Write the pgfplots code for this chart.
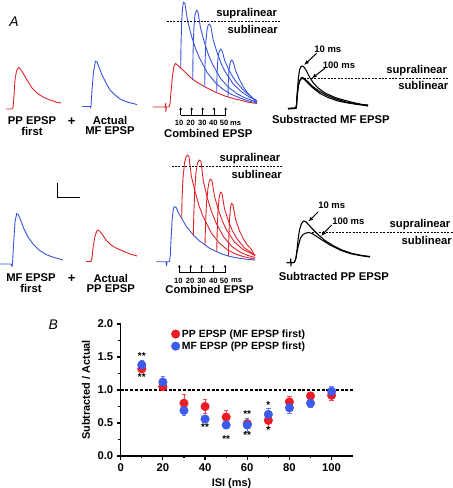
\documentclass[border=0pt]{standalone}
\usepackage{fontspec}
\setmainfont{Liberation Sans}
\usepackage{pgfplots}
\usepackage{pgfplotstable}
\pgfplotsset{compat=1.18}
\usetikzlibrary{arrows.meta}
\definecolor{tred}{RGB}{222,34,40}
\definecolor{tblue}{RGB}{55,85,222}
\definecolor{dred}{RGB}{236,28,36}
\definecolor{dblue}{RGB}{60,90,235}

\pgfplotstableread{
x y e
10 1.32 0.04
20 1.05 0.04
30 0.80 0.13
40 0.75 0.10
50 0.59 0.10
60 0.49 0.08
70 0.54 0.10
80 0.82 0.08
90 0.91 0.05
100 0.92 0.08
}\redtab
\pgfplotstableread{
x y e
10 1.38 0.07
20 1.12 0.08
30 0.69 0.08
40 0.56 0.04
50 0.47 0.05
60 0.47 0.10
70 0.63 0.09
80 0.73 0.08
90 0.80 0.06
100 0.98 0.07
}\bluetab

\newcommand{\lab}{\fontsize{11.3}{12}\selectfont\bfseries}
\newcommand{\sm}{\fontsize{7.6}{8}\selectfont\bfseries}
\newcommand{\md}{\fontsize{9.5}{10}\selectfont\bfseries}

\begin{document}
\begin{tikzpicture}
\begin{axis}[name=canvas, scale only axis, width=453bp, height=488bp,
  xmin=0, xmax=453, ymin=0, ymax=488, y dir=reverse, axis lines=none, clip=false,
  every axis plot/.append style={line width=0.9pt, line join=round, mark=none}]
% ---------- top row ----------
\addplot[tred] coordinates {(6,109) (12,109) (13,108) (14,95) (15,80) (16.5,71) (18.5,67.5) (20,68.5) (23,73) (27,80) (32,88) (37,93) (43,97) (50,100) (56,102) (61,103)};
\addplot[tblue] coordinates {(82,106.5) (90,106.5) (90.5,108) (91,106) (92,90) (93.5,72) (95.5,61) (97,62) (99,67) (102,75) (106,83) (110,90) (115,95) (120,99) (127,102) (137,104.5)};
% combined top: red base
\addplot[tred] coordinates {(152.7,107) (165,107) (165.7,103.5) (165.9,111.5) (166.3,107) (169,107) (170,104) (171,92) (172.5,76) (174,66) (175.5,63.5) (177,64.5) (180,67.5) (185,72) (190,77) (195,81) (200,84) (205,87) (210,89.5) (215,92) (220,94) (225,96) (230,97.5) (235,99) (240,100) (245,101.5) (250,102.5) (257,103.5)};
\addplot[tblue] coordinates {(180.7,68) (181,45) (181.7,22) (182.5,8) (183.5,2) (185,4) (187.5,20.5) (191.5,36) (195.5,48.6) (199.5,58) (207.5,73) (215.5,82.8) (223.5,89.7) (231.5,94.4) (239.5,97.8) (247.5,100.7) (257,103)};
\addplot[tblue] coordinates {(192.7,80) (193,55) (193.8,30) (194.8,16) (196.5,10) (198,12) (200.5,28) (204.5,42.7) (208.5,55) (212.5,64.2) (220.5,78.4) (228.5,87.3) (236.5,93.4) (244.5,97.7) (252.5,100.6) (257,102)};
\addplot[tblue] coordinates {(204.7,87) (205,65) (205.8,42) (207,30) (208.2,25) (209.3,24) (210.8,26) (213.3,40.3) (217.3,53.2) (221.3,63.9) (225.3,72) (233.3,84.2) (241.3,91.6) (249.3,97.1) (257,100.5)};
\addplot[tblue] coordinates {(216.7,92.7) (217,75) (217.8,60) (219,52) (220.7,49) (222.2,51) (224.7,60.6) (228.7,69.5) (232.7,77) (236.7,82.5) (244.7,91.4) (252.7,98) (257,101.5)};
\addplot[tblue] coordinates {(228,97) (228.3,82) (229,70) (230.3,62) (231.7,60) (233.2,62) (235.7,71) (239.7,80) (243.7,87.5) (247.7,93) (251.7,97.5) (256.7,102.5)};
% subtracted MF
\addplot[black, line width=1.1pt] coordinates {(288,108.5) (295,108) (296,108.5) (296.5,105) (297.3,92) (298.3,79) (299.5,70) (301,66.5) (302.5,66) (304,67) (306,70) (309,76) (313,82.5) (318,88) (325,93) (335,97.5) (345,100.5) (355,103) (362,104.5) (368,105.5)};
\addplot[black, line width=1.1pt] coordinates {(288,108.5) (295,108) (296,108.5) (296.5,105) (297.3,94) (298.3,86) (299.5,81) (301,79) (302.5,78.5) (304.5,79.5) (308,83) (313,88) (320,93.5) (328,97.5) (338,101) (348,103) (358,104.5) (368,106)};
\addplot[black, line width=1.1pt] coordinates {(288,109) (295,108.5) (296.5,106) (297.3,95) (298.5,85) (300,80) (301.5,77.5) (303.5,78) (307,81) (312,86) (318,90.5) (326,95) (336,99) (346,102) (356,104) (368,105)};
% ---------- bottom row ----------
\addplot[tblue] coordinates {(0,264) (11,264) (12,266.5) (12.5,264) (13.5,245) (15,222) (16.7,213.5) (18.5,215) (21,221) (24,229) (28,237) (33,244) (39,250) (46,254.5) (54,257.5) (63,260)};
\addplot[tred] coordinates {(86,261.5) (91,261.5) (92,258) (93,248) (95,236) (97.3,230) (99,230.5) (102,234) (106,240) (111,245) (117,248.5) (124,251.5) (130,254) (137,256)};
% combined bottom
\addplot[tblue] coordinates {(156,261.7) (166,261.7) (166.5,266) (167,261.7) (169.5,261.7) (170.3,255) (171,240) (172,222) (173,211) (174,207) (175,206.7) (176.5,208) (178,212) (181.7,218.3) (186,226) (193.3,235) (199,240.5) (205,245) (210,248.5) (216.7,251.7) (222,254) (228.3,256) (234,257.3) (240,258.3) (247,259.3) (255,260)};
\addplot[tred] coordinates {(181.7,218.3) (182,200) (183,178) (184.5,163) (186,157) (187.3,155) (189,156.5) (191.3,176) (195.3,192.6) (199.3,206.5) (203.3,217) (211.3,233) (219.3,243) (227.3,249.8) (235.3,253.9) (243.3,256.6) (255,259.1)};
\addplot[tred] coordinates {(193.3,235) (193.8,215) (194.7,190) (196,172) (197.5,163) (199.3,160) (201,161.5) (203.3,181) (207.3,198) (211.3,211) (215.3,221.4) (223.3,236.4) (231.3,245.9) (239.3,251.6) (247.3,255.3) (255,257.5)};
\addplot[tred] coordinates {(205,245) (205.5,225) (206.5,203) (208,188) (209.3,181) (210.5,179) (212,180.5) (214.5,196.5) (218.5,210.2) (222.5,221.4) (226.5,229.9) (234.5,242) (242.5,249.2) (255,255.5)};
\addplot[tred] coordinates {(216.7,251.7) (217.2,232) (218,210) (219.2,197) (220.5,192) (222,193.5) (224.5,208.9) (228.5,221.3) (232.5,231) (236.5,238.1) (244.5,248) (255,255)};
\addplot[tred] coordinates {(228.3,256) (228.8,238) (229.6,218) (230.6,207) (231.5,203.3) (233,205) (235.5,219.2) (239.5,230.8) (243.5,239.1) (247.5,245.2) (251.5,249.6) (255,256)};
% subtracted PP
\addplot[black, line width=1.1pt] coordinates {(286.7,262.7) (290.5,262.7) (290.7,259) (290.9,266) (291.2,262.7) (294,262.5) (295,261) (296,258) (297,250) (298,240) (299.5,230) (301.5,223.5) (303.5,221) (305.5,221.5) (308,224) (312,228.5) (318,234.5) (325,240.5) (333,245.5) (342,250) (352,253.5) (362,255.5) (370,256.5)};
\addplot[black, line width=1.1pt] coordinates {(286.7,262.7) (294,262.5) (295,261) (296,258) (297,252) (298.5,245) (300.5,238) (303,234.5) (306,233) (309,232.5) (312,233.5) (316,236) (322,240) (330,245) (340,250) (350,253.5) (360,255.5) (370,257)};

% ---------- annotations ----------
\node[font=\fontsize{14}{14}\selectfont\itshape] at (axis cs:14,22) {A};
\node[font=\lab, inner sep=0pt] at (axis cs:32,120.3) {PP EPSP};
\node[font=\lab, inner sep=0pt] at (axis cs:32,131) {first};
\node[font=\fontsize{13}{13}\selectfont\bfseries] at (axis cs:71.7,121.7) {+};
\node[font=\lab, inner sep=0pt] at (axis cs:110,120.3) {Actual};
\node[font=\lab, inner sep=0pt] at (axis cs:110,131) {MF EPSP};
\draw[dash pattern=on 2pt off 1.4pt, line width=0.9pt] (axis cs:166.7,21.7) -- (axis cs:280,21.7);
\node[font=\lab, inner sep=0pt] at (axis cs:246.7,14) {supralinear};
\node[font=\lab, inner sep=0pt] at (axis cs:252.7,29) {sublinear};
\pgfplotsinvokeforeach{180.7,191.7,202.7,214,225.7}{
  \draw[line width=0.8pt, -{Stealth[length=2.6pt,width=2.8pt]}] (axis cs:#1,115) -- (axis cs:#1,107.3);
}
\draw[line width=0.8pt] (axis cs:180.7,115) -- (axis cs:225.7,115);
\node[font=\sm, inner sep=0pt] at (axis cs:179,123.3) {10};
\node[font=\sm, inner sep=0pt] at (axis cs:190.7,123.3) {20};
\node[font=\sm, inner sep=0pt] at (axis cs:202.3,123.3) {30};
\node[font=\sm, inner sep=0pt] at (axis cs:213.3,123.3) {40};
\node[font=\sm, inner sep=0pt] at (axis cs:224,123.3) {50};
\node[font=\sm, inner sep=0pt] at (axis cs:235.5,123.3) {ms};
\node[font=\lab, inner sep=0pt] at (axis cs:208.3,133.6) {Combined EPSP};
\node[font=\md] at (axis cs:327.8,49.3) {10 ms};
\draw[line width=1pt, -{Latex[length=5pt,width=4pt]}] (axis cs:316.7,53.3) -- (axis cs:304,65);
\node[font=\md] at (axis cs:339,65) {100 ms};
\draw[line width=1pt, -{Latex[length=5pt,width=4pt]}] (axis cs:325,68.3) -- (axis cs:311.7,78.3);
\draw[dash pattern=on 2pt off 1.4pt, line width=0.9pt] (axis cs:304,78.3) -- (axis cs:447.7,78.3);
\node[font=\lab, inner sep=0pt] at (axis cs:416.7,70.3) {supralinear};
\node[font=\lab, inner sep=0pt] at (axis cs:423.3,85) {sublinear};
\node[font=\lab] at (axis cs:330.8,119.3) {Substracted MF EPSP};
% scale bar
\draw[line width=1.1pt] (axis cs:57.7,182.7) -- (axis cs:57.7,197.7) -- (axis cs:80,197.7);
% bottom row labels
\node[font=\lab, inner sep=0pt] at (axis cs:31,278) {MF EPSP};
\node[font=\lab, inner sep=0pt] at (axis cs:31,288) {first};
\node[font=\fontsize{13}{13}\selectfont\bfseries] at (axis cs:71.7,279) {+};
\node[font=\lab, inner sep=0pt] at (axis cs:110.8,278) {Actual};
\node[font=\lab, inner sep=0pt] at (axis cs:110.8,288.3) {PP EPSP};
\draw[dash pattern=on 2pt off 1.4pt, line width=0.9pt] (axis cs:171.7,166) -- (axis cs:281.7,166);
\node[font=\lab, inner sep=0pt] at (axis cs:250,158.5) {supralinear};
\node[font=\lab, inner sep=0pt] at (axis cs:256.7,174) {sublinear};
\pgfplotsinvokeforeach{179.3,190.7,201.7,213.3,225}{
  \draw[line width=0.8pt, -{Stealth[length=2.6pt,width=2.8pt]}] (axis cs:#1,272.7) -- (axis cs:#1,265);
}
\draw[line width=0.8pt] (axis cs:179.3,272.7) -- (axis cs:225,272.7);
\node[font=\sm, inner sep=0pt] at (axis cs:178.3,280.7) {10};
\node[font=\sm, inner sep=0pt] at (axis cs:190,280.7) {20};
\node[font=\sm, inner sep=0pt] at (axis cs:201.7,280.7) {30};
\node[font=\sm, inner sep=0pt] at (axis cs:213.3,280.7) {40};
\node[font=\sm, inner sep=0pt] at (axis cs:224,280.7) {50};
\node[font=\sm, inner sep=0pt] at (axis cs:236.5,280.7) {ms};
\node[font=\lab, inner sep=0pt] at (axis cs:209.5,289.8) {Combined EPSP};
\node[font=\md] at (axis cs:331.7,205) {10 ms};
\draw[line width=1pt, -{Latex[length=5pt,width=4pt]}] (axis cs:318.3,211.7) -- (axis cs:308.3,221.7);
\node[font=\md] at (axis cs:348.3,221.7) {100 ms};
\draw[line width=1pt, -{Latex[length=5pt,width=4pt]}] (axis cs:331.7,225) -- (axis cs:321,236);
\draw[dash pattern=on 2pt off 1.4pt, line width=0.9pt] (axis cs:312,232.7) -- (axis cs:453,232.7);
\node[font=\lab, inner sep=0pt] at (axis cs:420,224.5) {supralinear};
\node[font=\lab, inner sep=0pt] at (axis cs:426.7,240) {sublinear};
\node[font=\lab] at (axis cs:333.8,276.7) {Subtracted PP EPSP};
% panel B label
\node[font=\fontsize{14}{14}\selectfont\itshape] at (axis cs:53.3,325) {B};
\coordinate (Bo) at (axis cs:120.7,456);
\end{axis}

\begin{axis}[at={(Bo)}, anchor=south west, scale only axis, width=232bp, height=132bp,
  xmin=0, xmax=110, ymin=0, ymax=2,
  axis x line*=bottom, axis y line*=left,
  axis line style={line width=1.4pt},
  tick align=outside, tick style={line width=1.2pt, black},
  major tick length=4bp, minor tick length=2.5bp,
  xtick={0,20,40,60,80,100}, minor x tick num=1,
  ytick={0,0.5,1,1.5,2}, minor y tick num=1,
  yticklabel style={/pgf/number format/.cd, fixed, fixed zerofill, precision=1},
  /pgf/number format/assume math mode=true,
  ticklabel style={font=\fontsize{11.3}{12}\selectfont\bfseries},
  label style={font=\fontsize{11}{12}\selectfont\bfseries},
  xlabel={ISI (ms)}, ylabel={Subtracted / Actual},
  xlabel style={at={(axis description cs:0.478,-0.207)}, anchor=center},
  ylabel style={at={(axis description cs:-0.15,0.5)}, anchor=center},
  legend style={at={(axis cs:22.5,1.98)}, anchor=north west, draw=none, fill=none,
    font=\fontsize{10.5}{12}\selectfont\bfseries, row sep=-1pt,
    /tikz/every even column/.append style={column sep=2pt}},
  legend cell align=left,
  clip=false]
\addplot[black, line width=1.2pt, dash pattern=on 3pt off 1.8pt, forget plot] coordinates {(0,1) (110,1)};
\addplot[only marks, mark=*, mark size=4.3bp, color=dred, mark options={draw=dred, fill=dred},
  error bars/.cd, y dir=both, y explicit,
  error bar style={line width=0.9pt, dred!80},
  error mark options={rotate=90, mark size=2.2bp, line width=0.9pt, dred!80}]
  table[x=x, y=y, y error=e] {\redtab};
\addlegendentry{PP EPSP (MF EPSP first)}
\addplot[only marks, mark=*, mark size=4.3bp, color=dblue, mark options={draw=dblue, fill=dblue},
  error bars/.cd, y dir=both, y explicit,
  error bar style={line width=0.9pt, dblue!80},
  error mark options={rotate=90, mark size=2.2bp, line width=0.9pt, dblue!80}]
  table[x=x, y=y, y error=e] {\bluetab};
\addlegendentry{MF EPSP (PP EPSP first)}
\node[font=\fontsize{10}{10}\selectfont\bfseries] at (axis cs:10,1.52) {**};
\node[font=\fontsize{10}{10}\selectfont\bfseries] at (axis cs:10,1.20) {**};
\node[font=\fontsize{10}{10}\selectfont\bfseries] at (axis cs:40,0.44) {**};
\node[font=\fontsize{10}{10}\selectfont\bfseries] at (axis cs:50,0.26) {**};
\node[font=\fontsize{10}{10}\selectfont\bfseries] at (axis cs:60,0.64) {**};
\node[font=\fontsize{10}{10}\selectfont\bfseries] at (axis cs:60,0.31) {**};
\node[font=\fontsize{10}{10}\selectfont\bfseries] at (axis cs:70,0.77) {*};
\node[font=\fontsize{10}{10}\selectfont\bfseries] at (axis cs:70,0.40) {*};
\end{axis}
\pgfresetboundingbox
\path[use as bounding box] (canvas.south west) rectangle (canvas.north east);
\end{tikzpicture}
\end{document}
